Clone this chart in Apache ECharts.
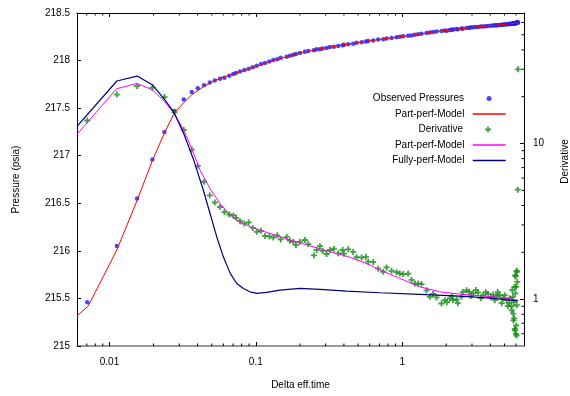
<!DOCTYPE html>
<html><head><meta charset="utf-8">
<script src="https://cdn.jsdelivr.net/npm/echarts@6/dist/echarts.min.js"></script>
<style>html,body{margin:0;padding:0;background:#fff}#c{width:570px;height:396px}</style>
</head><body><div id="c"></div><script>
// Observed data (shared time base for pressures and derivative)
const time = [0.00705,0.01123,0.01545,0.01965,0.02374,0.02779,0.0322,0.03651,0.04012,0.04429,
0.04845,0.05242,0.0570,0.0610,0.0659,0.0702,0.0732,0.0780,0.0835,0.0894,
0.0953,0.1014,0.1085,0.1156,0.1237,0.1317,0.1402,0.1479,0.1626,0.1712,
0.1803,0.188,0.2003,0.2167,0.2283,0.2496,0.2604,0.2743,0.2862,0.3048,
0.3210,0.3418,0.3657,0.3918,0.400,0.4279,0.4628,0.4884,0.5283,0.5652,
0.5860,0.6339,0.6857,0.7418,0.7825,0.8466,0.9158,0.9645,1.016,1.099,
1.159,1.221,1.286,1.356,1.468,1.546,1.628,1.717,1.857,1.956,
2.019,2.116,2.184,2.229,2.351,2.40,2.544,2.596,2.752,2.867,
2.944,3.052,3.185,3.302,3.445,3.572,3.727,3.864,4.032,4.18,
4.294,4.41,4.50,4.645,4.79,4.89,5.02,5.16,5.27,5.38,
5.43,5.58,5.61,5.65,5.70,5.74,5.76,5.79,5.83,5.86,
5.88,5.90,5.92,5.93,5.96,5.98,6.00,6.02,6.04,6.05,
6.07,6.10,6.12,6.16,6.19];
const pressure = [215.46,216.05,216.55,216.96,217.25,217.47,217.59,217.67,217.71,217.74,
217.77,217.79,217.81,217.82,217.84,217.86,217.87,217.885,217.9,217.915,
217.93,217.945,217.965,217.975,217.99,218.005,218.015,218.03,218.04,218.05,
218.062,218.068,218.08,218.092,218.1,218.108,218.118,218.12,218.128,218.133,
218.142,218.146,218.153,218.162,218.165,218.172,218.178,218.186,218.193,218.2,
218.206,218.21,218.221,218.224,218.232,218.238,218.246,218.25,218.256,218.261,
218.264,218.272,218.276,218.281,218.289,218.296,218.3,218.306,218.31,218.316,
218.313,218.322,218.324,218.327,218.331,218.33,218.337,218.334,218.342,218.344,
218.347,218.349,218.352,218.354,218.357,218.358,218.362,218.363,218.366,218.368,
218.371,218.369,218.373,218.374,218.377,218.376,218.381,218.379,218.383,218.384,
218.386,218.385,218.388,218.386,218.39,218.389,218.391,218.39,218.393,218.391,
218.392,218.394,218.393,218.392,218.395,218.394,218.396,218.395,218.397,218.396,
218.398,218.397,218.399,218.4,218.4];
const derivative = [14.06,20.65,23.42,22.85,19.89,15.88,12.24,9.14,7.19,5.68,
4.65,4.18,3.91,3.62,3.50,3.45,3.33,3.17,3.06,3.11,
2.87,2.71,2.75,2.55,2.53,2.49,2.57,2.42,2.51,2.37,
2.34,2.23,2.34,2.40,2.26,1.91,2.07,2.19,2.04,1.95,
2.07,2.11,1.97,2.07,1.96,2.09,2.01,1.86,1.85,1.87,
1.74,1.73,1.57,1.50,1.60,1.52,1.49,1.46,1.45,1.46,
1.33,1.26,1.26,1.25,1.14,1.035,1.08,1.026,0.938,0.985,
0.956,1.01,1.046,0.985,0.998,0.942,1.035,1.11,1.14,1.115,
1.046,1.09,1.144,1.10,1.015,1.06,1.11,1.08,1.03,1.07,
0.985,1.045,1.11,1.06,0.942,1.01,1.06,0.985,0.901,0.946,
1.015,0.901,0.848,1.144,1.035,0.807,0.73,0.956,0.753,1.20,
0.645,0.63,1.42,1.09,1.40,0.598,1.20,0.678,1.52,0.584,
0.914,1.50,1.29,5.05,30.0];

// Part-perf model (pressure, left axis)
const modelTime = [0.006,0.00716,0.01123,0.01545,0.01965,0.02374,0.02779,0.0322,0.03651,0.04429,
0.05242,0.0610,0.0702,0.0835,0.1014,0.1317,0.1712,0.2283,0.3048,0.4,
0.5283,0.6857,0.9158,1.221,1.628,2.229,3.052,4.18,5.38,6.19];
const modelPressure = [215.315,215.42,216.01,216.53,216.95,217.24,217.45,217.56,217.64,217.73,
217.79,217.83,217.86,217.895,217.94,218.0,218.05,218.1,218.135,218.165,
218.195,218.22,218.245,218.27,218.3,218.325,218.35,218.37,218.385,218.398];

// Part-perf model derivative (right axis)
const partTime = [0.006,0.0112,0.01545,0.0196,0.0237,0.0278,0.0322,0.0365,0.04159,0.04868,
0.057,0.0667,0.078,0.0913,0.125,0.1712,0.2344,0.321,0.4395,0.602,
0.7045,0.9648,1.321,1.808,2.476,3.392,4.645,6.19];
const partDeriv = [11.46,22.51,24.34,22.18,18.66,15.55,12.15,9.27,6.73,5.13,
4.11,3.46,3.14,2.92,2.64,2.40,2.20,2.02,1.86,1.66,
1.54,1.36,1.20,1.115,1.078,1.05,1.026,0.985];

// Fully-perf model derivative (right axis)
const fullTime = [0.006,0.01123,0.01545,0.0196,0.0237,0.0275,0.0322,0.0377,0.0438,0.04868,
0.0541,0.060,0.0667,0.0741,0.0822,0.0913,0.1014,0.1187,0.1463,0.2003,
0.2743,0.4174,0.7045,1.321,2.476,3.965,6.19];
const fullDeriv = [12.90,25.23,27.14,23.89,19.32,15.93,11.56,7.80,5.01,3.55,
2.51,1.87,1.47,1.26,1.17,1.115,1.089,1.105,1.144,1.174,
1.156,1.127,1.099,1.073,1.046,1.015,0.975];

const xMinorTicks = [0.007,0.008,0.009,0.02,0.03,0.04,0.05,0.06,0.07,0.08,0.09,
0.2,0.3,0.4,0.5,0.6,0.7,0.8,0.9,2,3,4,5,6];
const y2MinorTicks = [0.6,0.7,0.8,0.9,2,3,4,5,6,7,8,9,20,30,40,50,60];

const FONT = 'Liberation Sans, Arial, Helvetica, sans-serif';
const plusPath = 'path://M2.1,0H3.9V2.1H6V3.9H3.9V6H2.1V3.9H0V2.1H2.1Z';
const C_OBS = '#1a1aff', C_RED = '#ff0000', C_GREEN = '#118a11', C_MAG = '#ff00ff', C_NAVY = '#00007a';

const chart = echarts.init(document.getElementById('c'), null, {renderer: 'canvas'});
const textBase = {fontFamily: FONT, fontSize: 10, color: '#000'};

function legendItem(name, top, right, icon, color, w, h, pad) {
  return {
    show: true, orient: 'vertical', align: 'right', padding: 0,
    right: right, top: top, itemWidth: w, itemHeight: h, selectedMode: false,
    textStyle: Object.assign({}, textBase, {padding: [0, pad, 0, 0], lineHeight: 12}),
    data: [{name: name, icon: icon, itemStyle: {color: color, borderWidth: 0}}]
  };
}

const option = {
  animation: false,
  backgroundColor: '#fff',
  grid: {left: 77, right: 46, top: 13, bottom: 50, containLabel: false, outerBoundsMode: 'none'},
  legend: [
    legendItem('Observed Pressures', 92.5, 78.5, 'circle', C_OBS, 5, 5, 17.5),
    legendItem('Part-perf-Model', 108, 64.3, 'rect', C_RED, 33, 1.5, 3.3),
    legendItem('Derivative', 123.5, 79, plusPath, C_GREEN, 6, 6, 17),
    legendItem('Part-perf-Model', 139, 64.3, 'rect', C_MAG, 33, 1.5, 3.3),
    legendItem('Fully-perf-Model', 154.5, 64.3, 'rect', C_NAVY, 33, 1.5, 3.3)
  ],
  xAxis: [{
    type: 'log', logBase: 10, min: 0.006, max: 6.8, position: 'bottom',
    name: 'Delta eff.time', nameLocation: 'middle', nameGap: 34, nameTextStyle: textBase,
    axisLine: {show: true, onZero: false, lineStyle: {color: '#777', width: 1.5}},
    axisTick: {show: true, inside: true, length: 4, lineStyle: {color: '#000'}},
    axisLabel: Object.assign({}, textBase, {margin: 11, showMinLabel: false, showMaxLabel: false}),
    splitLine: {show: false}, minorTick: {show: false}
  }, {
    type: 'log', logBase: 10, min: 0.006, max: 6.8, position: 'top',
    axisLine: {show: true, onZero: false, lineStyle: {color: '#000', width: 1}},
    axisTick: {show: true, inside: true, length: 4, lineStyle: {color: '#000'}},
    axisLabel: {show: false}, splitLine: {show: false}
  }],
  yAxis: [{
    type: 'value', min: 215, max: 218.5, interval: 0.5, position: 'left',
    name: 'Pressure (psia)', nameLocation: 'middle', nameGap: 56, nameRotate: 90, nameTextStyle: textBase,
    axisLine: {show: true, onZero: false, lineStyle: {color: '#000', width: 1}},
    axisTick: {show: true, inside: true, length: 4, lineStyle: {color: '#000'}},
    axisLabel: Object.assign({}, textBase, {margin: 7}),
    splitLine: {show: false}
  }, {
    type: 'log', logBase: 10, min: 0.5, max: 69, position: 'right',
    name: 'Derivative', nameLocation: 'middle', nameGap: 36, nameRotate: 90,
    nameTextStyle: Object.assign({}, textBase, {padding: [0, 0, 0, 36]}),
    axisLine: {show: true, onZero: false, lineStyle: {color: '#000', width: 1}},
    axisTick: {show: true, inside: true, length: 4, lineStyle: {color: '#000'}},
    axisLabel: Object.assign({}, textBase, {margin: 9, showMinLabel: false, showMaxLabel: false}),
    splitLine: {show: false}
  }],
  series: [
    {name: 'Observed Pressures', type: 'scatter', xAxisIndex: 0, yAxisIndex: 0,
     data: time.map((t, i) => [t, pressure[i]]), symbol: 'circle', symbolSize: 4.5,
     itemStyle: {color: C_OBS}, z: 2, silent: true},
    {name: 'Part-perf-Model', type: 'line', xAxisIndex: 0, yAxisIndex: 0,
     data: modelTime.map((t, i) => [t, modelPressure[i]]), symbol: 'none', showSymbol: false,
     lineStyle: {color: C_RED, width: 1}, itemStyle: {color: C_RED}, z: 3, silent: true},
    {name: 'Derivative', type: 'scatter', xAxisIndex: 0, yAxisIndex: 1,
     data: time.map((t, i) => [t, derivative[i]]), symbol: plusPath, symbolSize: 6,
     itemStyle: {color: C_GREEN}, z: 4, silent: true},
    {name: 'Part-perf-Model', type: 'line', xAxisIndex: 0, yAxisIndex: 1,
     data: partTime.map((t, i) => [t, partDeriv[i]]), symbol: 'none', showSymbol: false,
     lineStyle: {color: C_MAG, width: 1}, itemStyle: {color: C_MAG}, z: 5, silent: true},
    {name: 'Fully-perf-Model', type: 'line', xAxisIndex: 0, yAxisIndex: 1,
     data: fullTime.map((t, i) => [t, fullDeriv[i]]), symbol: 'none', showSymbol: false,
     lineStyle: {color: C_NAVY, width: 1.2}, itemStyle: {color: C_NAVY}, z: 6, silent: true},
    {type: 'custom', xAxisIndex: 0, yAxisIndex: 0, silent: true, z: 10,
     data: xMinorTicks.map(v => [v, 215]),
     renderItem: function (params, api) {
       const x = api.coord([api.value(0), 215])[0];
       const cs = params.coordSys;
       const s = {stroke: '#000', lineWidth: 1};
       return {type: 'group', children: [
         {type: 'line', shape: {x1: x, y1: cs.y + cs.height, x2: x, y2: cs.y + cs.height - 2.5}, style: s},
         {type: 'line', shape: {x1: x, y1: cs.y, x2: x, y2: cs.y + 2.5}, style: s}
       ]};
     }},
    {type: 'custom', xAxisIndex: 0, yAxisIndex: 1, silent: true, z: 10,
     data: y2MinorTicks.map(v => [1, v]),
     renderItem: function (params, api) {
       const y = api.coord([1, api.value(1)])[1];
       const cs = params.coordSys;
       return {type: 'line', shape: {x1: cs.x + cs.width, y1: y, x2: cs.x + cs.width - 2.5, y2: y},
               style: {stroke: '#000', lineWidth: 1}};
     }}
  ]
};
chart.setOption(option);
</script></body></html>
